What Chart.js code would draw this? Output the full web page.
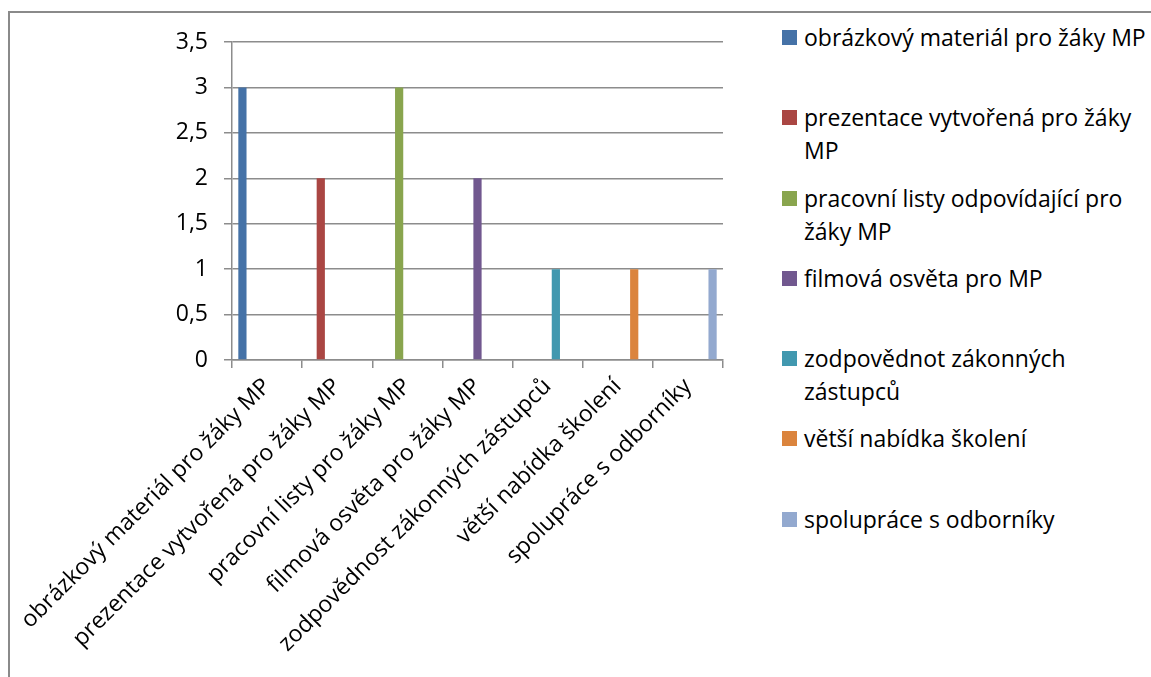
<!DOCTYPE html>
<html>
<head>
<meta charset="utf-8">
<script src="https://cdn.jsdelivr.net/npm/chart.js@4/dist/chart.umd.min.js"></script>
<style>
    body { margin: 0; background: #fff; overflow: hidden; width: 1151px; height: 677px; position: relative; font-family: "Open Sans", sans-serif; }
    #frame { position: absolute; left: 8px; top: 11px; width: 1300px; height: 800px; border-left: 2px solid #8a8a8a; border-top: 2px solid #8a8a8a; }
    #chartBox { position: absolute; left: 0; top: 0; width: 760px; height: 677px; }
    #legend { position: absolute; left: 782px; top: 21px; width: 368px; }
    .item { height: 80.3px; display: flex; align-items: flex-start; }
    .box { width: 15px; height: 15px; margin-top: 9px; margin-right: 7px; flex: none; }
    .txt { font-size: 23px; line-height: 33px; color: #000; width: 348px; }
</style>
</head>
<body>
<div id="frame"></div>
<div id="chartBox"><canvas id="myChart" width="760" height="677"></canvas></div>
<div id="legend"></div>
<script>
// kategorie = série (každá série má hodnotu jen ve své kategorii)
const categories = [
    "obrázkový materiál pro žáky MP",
    "prezentace vytvořená pro žáky MP",
    "pracovní listy pro žáky MP",
    "filmová osvěta pro žáky MP",
    "zodpovědnost zákonných zástupců",
    "větší nabídka školení",
    "spolupráce s odborníky"
];
const seriesNames = [
    "obrázkový materiál pro žáky MP",
    "prezentace vytvořená pro žáky MP",
    "pracovní listy odpovídající pro žáky MP",
    "filmová osvěta pro MP",
    "zodpovědnot zákonných zástupců",
    "větší nabídka školení",
    "spolupráce s odborníky"
];
const seriesValues = [3, 2, 3, 2, 1, 1, 1];
const seriesColors = ['#4572A7', '#AA4643', '#89A54E', '#71588F', '#4198AF', '#DB843D', '#93A9CF'];
const yTicks = [0, 0.5, 1, 1.5, 2, 2.5, 3, 3.5];

const GRID = '#8c8c8c';
const FONT = { family: '"Open Sans", sans-serif', size: 23 };

var datasets = [];
seriesNames.forEach(function(name, i){
    var data = categories.map(function(c, j){ return j == i ? seriesValues[i] : null; });
    datasets.push({
        label: name,
        data: data,
        backgroundColor: seriesColors[i],
        borderWidth: 0,
        categoryPercentage: 0.82,
        barPercentage: 1.0
    });
});

// legenda vpravo
var legendDiv = document.getElementById('legend');
seriesNames.forEach(function(name, i){
    legendDiv.innerHTML += '<div class="item"><div class="box" style="background:' + seriesColors[i] + '"></div>' +
        '<div class="txt">' + name + '</div></div>';
});

var ctx = document.getElementById('myChart');
new Chart(ctx, {
    type: 'bar',
    data: { labels: categories, datasets: datasets },
    options: {
        responsive: false,
        animation: false,
        layout: { padding: { top: 42, right: 37, left: 0, bottom: 0 } },
        plugins: { legend: { display: false }, tooltip: { enabled: false } },
        scales: {
            x: {
                grid: { drawOnChartArea: false, drawTicks: true, tickLength: 8, color: GRID, lineWidth: 1.5 },
                border: { color: GRID, width: 1.5 },
                ticks: { autoSkip: false, maxRotation: 45, minRotation: 45, padding: 5, color: '#000', font: FONT },
                afterFit: function(scale) {
                    scale.height = 317;
                    scale.paddingLeft = 0;
                    scale.paddingRight = 0;
                }
            },
            y: {
                min: 0,
                max: 3.5,
                afterBuildTicks: function(scale) { scale.ticks = yTicks.map(function(v){ return { value: v }; }); },
                grid: { color: GRID, lineWidth: 1.5, tickLength: 8 },
                border: { color: GRID, width: 1.5 },
                ticks: {
                    padding: 16, color: '#000', font: FONT,
                    callback: function(v) { return String(v).replace('.', ','); }
                },
                afterFit: function(scale) { scale.width = 232; }
            }
        }
    }
});
</script>
</body>
</html>
